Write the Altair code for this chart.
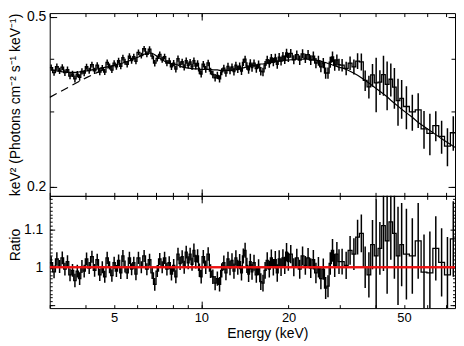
import altair as alt
import numpy as np
import pandas as pd

# ---------------- data ----------------
# spectral bin edges (keV)
edges = [
    3.00, 3.07, 3.14, 3.21, 3.28, 3.35, 3.42, 3.49, 3.56, 3.63, 3.70, 3.77, 3.84, 3.91, 3.98, 4.06,
    4.15, 4.24, 4.33, 4.42, 4.51, 4.60, 4.69, 4.78, 4.87, 4.96, 5.05, 5.14, 5.23, 5.32, 5.41, 5.50,
    5.60, 5.70, 5.80, 5.90, 6.00,
    6.14, 6.28, 6.42, 6.56, 6.70, 6.84, 6.98, 7.12, 7.26, 7.40, 7.54, 7.68, 7.82, 7.96, 8.10, 8.24,
    8.38, 8.52, 8.66, 8.80, 8.94, 9.08, 9.22, 9.36, 9.50, 9.64, 9.78, 9.92, 10.06,
    10.26, 10.46, 10.66, 10.86, 11.06, 11.26, 11.46, 11.66, 11.86, 12.06, 12.26, 12.46, 12.66, 12.86,
    13.06, 13.26, 13.46, 13.66, 13.86, 14.06, 14.26, 14.46, 14.66, 14.86, 15.06,
    15.34, 15.62, 15.90, 16.18, 16.46, 16.74, 17.02, 17.30, 17.58, 17.86, 18.14, 18.42, 18.70, 18.98,
    19.26, 19.54, 19.82, 20.10,
    20.6, 21.1, 21.6, 22.1, 22.6, 23.1, 23.6, 24.1, 24.6, 25.1, 25.6, 26.1, 26.6, 27.1, 27.6, 28.1,
    28.6, 29.1, 29.6, 30.1,
    31.1, 32.1, 33.1, 34.1, 35.1, 36.2, 37.3, 38.4, 39.5, 40.7, 41.9, 43.1, 44.4, 45.7, 47.0, 48.4, 49.8,
    52.2, 54.7, 57.3, 60.0, 62.9, 65.9, 69.0, 72.3, 75.7, 79.3,
]

# best-fit model, keV^2 (Photons cm^-2 s^-1 keV^-1), one value per bin
model = [
    0.376, 0.375, 0.374, 0.373, 0.372, 0.372, 0.371, 0.371, 0.371, 0.371, 0.371, 0.372, 0.372, 0.373, 0.374,
    0.375, 0.376, 0.377, 0.378, 0.379, 0.380, 0.381, 0.382, 0.383, 0.384, 0.385, 0.386, 0.388, 0.389, 0.390,
    0.392, 0.393, 0.395, 0.397, 0.399, 0.401,
    0.403, 0.406, 0.409, 0.411, 0.412, 0.411, 0.408, 0.404, 0.400, 0.397, 0.394, 0.392, 0.390, 0.389, 0.388,
    0.387, 0.386, 0.383, 0.382, 0.381, 0.380, 0.380, 0.379, 0.379, 0.378, 0.378, 0.378, 0.377, 0.377,
    0.377, 0.377, 0.377, 0.377, 0.376, 0.376, 0.376, 0.375, 0.375, 0.375, 0.375, 0.375, 0.375, 0.375,
    0.376, 0.376, 0.377, 0.378, 0.379, 0.380, 0.381, 0.382, 0.383, 0.384, 0.385,
    0.385, 0.386, 0.387, 0.388, 0.388, 0.389, 0.390, 0.391, 0.391, 0.392, 0.393, 0.393, 0.394, 0.394,
    0.395, 0.395, 0.396, 0.396,
    0.397, 0.397, 0.398, 0.398, 0.398, 0.398, 0.398, 0.397, 0.397, 0.396, 0.395, 0.394, 0.392, 0.391,
    0.389, 0.388, 0.386, 0.384, 0.383, 0.381,
    0.380, 0.377, 0.373, 0.369, 0.365, 0.360, 0.355, 0.350, 0.345, 0.340, 0.335, 0.330, 0.325, 0.319,
    0.314, 0.309, 0.304,
    0.298, 0.291, 0.283, 0.277, 0.271, 0.265, 0.259, 0.254, 0.249, 0.244,
]

# data / model ratio, one value per bin
ratio = [
    1.012, 0.988, 1.022, 1.002, 1.025, 0.995, 1.015, 0.980, 0.992, 0.965, 0.990, 0.970, 1.002, 0.990, 1.022,
    0.998, 1.028, 0.992, 1.020, 0.980, 1.000, 0.975, 1.025, 1.000, 0.978, 1.012, 0.990, 1.018, 0.985, 1.030,
    1.002, 0.985, 1.025, 0.995, 1.012, 0.982,
    1.025, 1.000, 1.030, 0.995, 1.020, 0.985, 0.955, 0.990, 1.022, 1.000, 1.025, 0.995, 1.012, 0.982, 1.005,
    0.975, 1.035, 1.010, 1.028, 1.000, 1.040, 1.012, 1.035, 1.008, 1.045, 1.015, 1.030, 0.992, 0.975,
    1.028, 1.000, 1.035, 0.990, 0.975, 0.958, 0.970, 0.955, 0.992, 1.012, 0.985, 1.022, 0.998, 1.018,
    0.990, 1.025, 1.000, 1.015, 0.985, 1.030, 1.045, 1.005, 0.982, 1.015, 0.988,
    1.012, 0.980, 1.000, 0.962, 0.958, 0.992, 1.018, 0.995, 1.025, 1.000, 1.020, 0.985, 1.022, 1.000,
    1.025, 1.005, 1.040, 1.015,
    1.035, 1.000, 1.025, 0.995, 1.030, 1.005, 1.025, 0.998, 1.020, 0.985, 1.000, 0.970, 0.995, 0.945,
    0.950, 1.010, 1.045, 1.005, 1.035, 1.015,
    1.015, 1.005, 1.045, 1.035, 1.080, 1.090, 1.000, 0.980, 1.060, 1.030, 1.050, 1.110, 1.070, 1.120,
    1.090, 1.030, 1.060,
    1.035, 1.030, 1.070, 0.987, 0.985, 1.050, 1.013, 0.980, 1.075, 1.060,
]

# 1-sigma error on the ratio, one value per bin
ratio_err = [
    0.017, 0.017, 0.018, 0.017, 0.017, 0.017, 0.017, 0.017, 0.017, 0.018, 0.017, 0.017, 0.017, 0.017, 0.017,
    0.016, 0.016, 0.017, 0.016, 0.016, 0.016, 0.016, 0.016, 0.016, 0.016, 0.016, 0.016, 0.016, 0.016, 0.016,
    0.016, 0.016, 0.016, 0.016, 0.016, 0.016,
    0.016, 0.016, 0.016, 0.016, 0.016, 0.016, 0.017, 0.016, 0.016, 0.016, 0.016, 0.017, 0.017, 0.017, 0.017,
    0.017, 0.017, 0.017, 0.017, 0.017, 0.017, 0.017, 0.017, 0.017, 0.018, 0.018, 0.018, 0.018, 0.018,
    0.018, 0.018, 0.018, 0.018, 0.019, 0.019, 0.019, 0.019, 0.019, 0.019, 0.019, 0.019, 0.019, 0.019,
    0.020, 0.020, 0.020, 0.020, 0.020, 0.020, 0.020, 0.020, 0.021, 0.021, 0.021,
    0.021, 0.021, 0.021, 0.022, 0.022, 0.022, 0.022, 0.022, 0.022, 0.022, 0.023, 0.023, 0.023, 0.023,
    0.023, 0.023, 0.024, 0.024,
    0.024, 0.024, 0.024, 0.025, 0.025, 0.025, 0.026, 0.026, 0.026, 0.027, 0.027, 0.028, 0.028, 0.029,
    0.029, 0.030, 0.030, 0.031, 0.032, 0.033,
    0.034, 0.036, 0.038, 0.042, 0.046, 0.050, 0.055, 0.060, 0.065, 0.150, 0.070, 0.120, 0.140, 0.100,
    0.120, 0.130, 0.110,
    0.120, 0.100, 0.100, 0.100, 0.110, 0.085, 0.090, 0.100, 0.100, 0.120,
]

# dashed model component at low energy
dash_energy = [3.0, 3.5, 4.0, 4.5, 5.0]
dash_flux = [0.324, 0.343, 0.360, 0.374, 0.385]

unity = [1.0]

x_domain = [3.0, 75.0]
flux_domain = [0.1904, 0.5107]
ratio_domain = [0.892, 1.189]

x_ticks = [3, 4, 5, 6, 7, 8, 9, 10, 20, 30, 40, 50, 60, 70]
x_major = [10]
flux_ticks = [0.2, 0.3, 0.4, 0.5]
flux_major = [0.2, 0.5]
ratio_ticks = [round(0.90 + 0.01 * i, 2) for i in range(29)]
ratio_major = [0.9, 1.0, 1.1]

assert len(edges) == len(model) + 1 == len(ratio) + 1 == len(ratio_err) + 1, (
    len(edges), len(model), len(ratio), len(ratio_err))

# ---------------- tables ----------------
lo = np.array(edges[:-1])
hi = np.array(edges[1:])
cen = np.sqrt(lo * hi)
m = np.array(model)
r = np.array(ratio)
er = np.array(ratio_err)

bins = pd.DataFrame({
    "cen": cen, "model": m,
    "flux_lo": m * (r - er), "flux_hi": m * (r + er),
    "r_lo": r - er, "r_hi": r + er,
})
steps = pd.DataFrame({
    "e": np.append(lo, hi[-1]),
    "flux": np.append(m * r, m[-1] * r[-1]),
    "ratio": np.append(r, r[-1]),
})
dash = pd.DataFrame({"e": dash_energy, "flux": dash_flux})
unity_df = pd.DataFrame({"e0": [x_domain[0]], "e1": [x_domain[1]], "r": unity})

FONT = "Liberation Sans"


def ax(orient, values, size, **kw):
    base = dict(orient=orient, values=values, tickSize=alt.ExprRef(expr=str(-size)),
                domain=False, grid=False, ticks=True, tickColor="black", tickWidth=1)
    if "labelExpr" not in kw:
        base["labels"] = False
        base["title"] = None
    else:
        base.update(labels=True, labelFont=FONT, labelFontSize=14, labelColor="black",
                    labelOverlap=False, titleFont=FONT, titleFontSize=14,
                    titleFontWeight="normal", titleColor="black")
    base.update(kw)
    return alt.Axis(**base)


xs = alt.Scale(type="log", domain=x_domain, nice=False)
ys_top = alt.Scale(type="log", domain=flux_domain, nice=False)
ys_bot = alt.Scale(type="linear", domain=ratio_domain, nice=False, zero=False)

LW = 1.3
EW = 1.5

# ---------------- top panel ----------------
top_step = alt.Chart(steps).mark_line(
    interpolate="step-after", color="black", strokeWidth=LW, clip=True
).encode(
    x=alt.X("e:Q", scale=xs, axis=ax("bottom", x_ticks, 3.5)),
    y=alt.Y("flux:Q", scale=ys_top, axis=ax(
        "left", flux_ticks, 4,
        labelExpr="datum.value == 0.2 || datum.value == 0.5 ? toString(datum.value) : ''",
        labelPadding=8, title="keV² (Photons cm⁻² s⁻¹ keV⁻¹)",
        titlePadding=3, minExtent=24, maxExtent=24)),
)
top_err = alt.Chart(bins).mark_rule(color="black", strokeWidth=EW, clip=True).encode(
    x=alt.X("cen:Q", scale=xs, axis=ax("top", x_ticks, 3.5)),
    y=alt.Y("flux_lo:Q", scale=ys_top, axis=ax("right", flux_ticks, 4)),
    y2="flux_hi:Q",
)
top_model = alt.Chart(bins).mark_line(color="black", strokeWidth=1.2, clip=True).encode(
    x=alt.X("cen:Q", scale=xs, axis=ax("bottom", x_major, 7)),
    y=alt.Y("model:Q", scale=ys_top, axis=ax("left", flux_major, 7)),
)
top_dash = alt.Chart(dash).mark_line(
    color="black", strokeWidth=1.2, strokeDash=[8, 5], clip=True
).encode(
    x=alt.X("e:Q", scale=xs, axis=ax("top", x_major, 7)),
    y=alt.Y("flux:Q", scale=ys_top, axis=ax("right", flux_major, 7)),
)
top = alt.layer(top_step, top_err, top_model, top_dash).resolve_axis(
    x="independent", y="independent"
).properties(width=408, height=184)

# ---------------- ratio panel ----------------
bot_step = alt.Chart(steps).mark_line(
    interpolate="step-after", color="black", strokeWidth=LW, clip=True
).encode(
    x=alt.X("e:Q", scale=xs, axis=ax(
        "bottom", x_ticks, 3.5,
        labelExpr="datum.value == 5 || datum.value == 10 || datum.value == 20 || datum.value == 50 ? toString(datum.value) : ''",
        labelFontSize=13, labelPadding=7, title="Energy (keV)", titlePadding=2,
        minExtent=17, maxExtent=17, titleX=219)),
    y=alt.Y("ratio:Q", scale=ys_bot, axis=ax(
        "left", ratio_ticks, 2.5,
        labelExpr="datum.value == 1 ? '1' : (datum.value == 1.1 ? '1.1' : '')",
        labelPadding=9.5, title="Ratio", titlePadding=3,
        minExtent=24, maxExtent=24, titleY=49)),
)
bot_err = alt.Chart(bins).mark_rule(color="black", strokeWidth=EW, clip=True).encode(
    x=alt.X("cen:Q", scale=xs, axis=ax("top", x_ticks, 3.5)),
    y=alt.Y("r_lo:Q", scale=ys_bot, axis=ax("right", ratio_ticks, 2.5)),
    y2="r_hi:Q",
)
bot_one = alt.Chart(unity_df).mark_rule(color="#ee1111", strokeWidth=2, clip=True).encode(
    x=alt.X("e0:Q", scale=xs, axis=ax("bottom", x_major, 7)),
    x2="e1:Q",
    y=alt.Y("r:Q", scale=ys_bot, axis=ax("left", ratio_major, 5)),
)
bot_one2 = alt.Chart(unity_df).mark_rule(color="#ee1111", strokeWidth=2, clip=True).encode(
    x=alt.X("e0:Q", scale=xs, axis=ax("top", x_major, 7)),
    x2="e1:Q",
    y=alt.Y("r:Q", scale=ys_bot, axis=ax("right", ratio_major, 5)),
)
bot = alt.layer(bot_step, bot_err, bot_one, bot_one2).resolve_axis(
    x="independent", y="independent"
).properties(width=408, height=113)

chart = alt.vconcat(top, bot, spacing=0, padding=0, bounds="flush").configure_view(
    stroke="black", strokeWidth=1
)

chart.save("out.html", embed_options={"renderer": "svg", "actions": False})
